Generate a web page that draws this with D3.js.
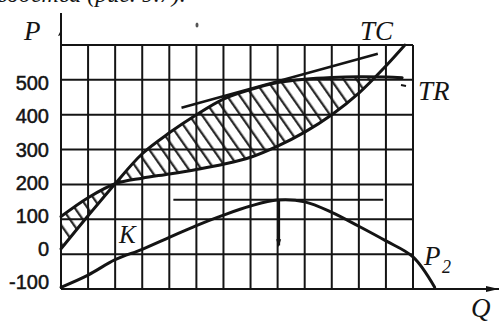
<!DOCTYPE html>
<html>
<head>
<meta charset="utf-8">
<script src="https://cdn.jsdelivr.net/npm/d3@7"></script>
<style>
  body { margin: 0; background: #fff; }
</style>
</head>
<body>
<div id="chart"></div>
<script>
//grid ticks for Q and P
var qTicks = d3.range(0, 14);
var pTicks = [-100, 0, 100, 200, 300, 400, 500, 600];
var pLabels = [-100, 0, 100, 200, 300, 400, 500];

//total revenue TR
var trQ = [0, 1, 2, 3, 4, 5, 6, 7, 8, 9, 10, 11, 12, 12.6];
var trV = [15, 110, 202, 288, 348, 400, 445, 472, 492, 502, 507, 509, 508, 506];

//total cost TC
var tcQ = [0, 1, 2, 3, 4, 5, 6, 7, 8, 9, 10, 11, 12, 12.7];
var tcV = [108, 162, 202, 218, 230, 243, 258, 278, 310, 350, 400, 462, 540, 600];

//profit P2
var p2Q = [0, 1, 2, 3, 4, 5, 6, 7, 8, 9, 10, 11, 12, 13, 13.8];
var p2V = [-95, -60, -16, 14, 48, 82, 112, 138, 155, 150, 120, 80, 38, -8, -95];

//break-even points where TC crosses TR
var breakEven = [2, 11.6];

//tangent to TR (parallel to TC at max profit) and horizontal tangent to P2
var tangentQ = [4.45, 11.7];
var tangentV = [420, 575];
var maxQ = 8;
var maxP = 156;
var flatQ = [4.15, 11.9];

var width = 499, height = 322;

var svg = d3.select("#chart").append("svg")
    .attr("width", width)
    .attr("height", height)
    .style("font-family", "'Liberation Serif', 'Times New Roman', serif");

var x = d3.scaleLinear().domain([0, 13]).range([61, 413]);
var y = d3.scaleLinear().domain([-100, 600]).range([289, 45]);
//tick numbers in the scan sit on a slightly tighter spacing than the grid
var yLab = d3.scaleLinear().domain([-100, 500]).range([282, 83]);

var ink = "#141414";

//hatching pattern
var defs = svg.append("defs");
defs.append("pattern")
    .attr("id", "hatch")
    .attr("patternUnits", "userSpaceOnUse")
    .attr("width", 10.5)
    .attr("height", 10.5)
    .attr("patternTransform", "rotate(-35)")
  .append("line")
    .attr("x1", 5).attr("y1", -2)
    .attr("x2", 5).attr("y2", 13)
    .attr("stroke", "#222")
    .attr("stroke-width", 2.2);

defs.append("clipPath")
    .attr("id", "lensClip")
  .append("rect")
    .attr("x", x(0))
    .attr("y", y(600))
    .attr("width", x(breakEven[1]) - x(0))
    .attr("height", y(-100) - y(600));

//cut-off line of the book text above the figure
svg.append("text")
    .attr("x", -3)
    .attr("y", 2)
    .attr("font-size", 24)
    .attr("font-style", "italic")
    .attr("fill", ink)
    .text("водства (рис. 9.7).");

var line = d3.line()
    .x(function(d) { return x(d[0]); })
    .y(function(d) { return y(d[1]); })
    .curve(d3.curveCatmullRom);

var trPts = d3.zip(trQ, trV);
var tcPts = d3.zip(tcQ, tcV);
var p2Pts = d3.zip(p2Q, p2V);

//hatched area between TR and TC
svg.append("path")
    .attr("d", line(trPts) + "L" + line(tcPts.slice().reverse()).slice(1) + "Z")
    .attr("fill", "url(#hatch)")
    .attr("clip-path", "url(#lensClip)");

//grid
svg.append("g").selectAll("line")
    .data(qTicks)
    .enter().append("line")
    .attr("x1", function(d) { return x(d); })
    .attr("x2", function(d) { return x(d); })
    .attr("y1", y(600))
    .attr("y2", y(-100))
    .attr("stroke", ink)
    .attr("stroke-width", 2);

svg.append("g").selectAll("line")
    .data(pTicks)
    .enter().append("line")
    .attr("x1", x(0))
    .attr("x2", x(13))
    .attr("y1", function(d) { return y(d); })
    .attr("y2", function(d) { return y(d); })
    .attr("stroke", ink)
    .attr("stroke-width", 2);

//axes with arrows
svg.append("line")
    .attr("x1", x(0)).attr("x2", x(0))
    .attr("y1", 13).attr("y2", y(-100))
    .attr("stroke", ink).attr("stroke-width", 2);
svg.append("line")
    .attr("x1", x(0)).attr("x2", 499)
    .attr("y1", y(-100)).attr("y2", y(-100))
    .attr("stroke", ink).attr("stroke-width", 2);
svg.append("path")
    .attr("d", "M499," + y(-100) + "l-13,-3l0,6Z")
    .attr("fill", ink);
svg.append("path")
    .attr("d", "M" + x(0) + ",30l-3,6l3,-1Z")
    .attr("fill", ink);

//tick labels
svg.append("g").selectAll("text")
    .data(pLabels)
    .enter().append("text")
    .attr("x", 49)
    .attr("y", function(d) { return yLab(d); })
    .attr("dy", "0.36em")
    .attr("text-anchor", "end")
    .attr("font-family", "'Liberation Sans', Arial, sans-serif")
    .attr("font-size", 20)
    .attr("fill", ink)
    .attr("stroke", ink)
    .attr("stroke-width", 0.5)
    .text(function(d) { return d; });

//curves
[trPts, tcPts, p2Pts].forEach(function(pts) {
  svg.append("path")
      .attr("d", line(pts))
      .attr("fill", "none")
      .attr("stroke", ink)
      .attr("stroke-width", 3)
      .attr("stroke-linecap", "round");
});

//tangent lines and max-profit marker
svg.append("line")
    .attr("x1", x(tangentQ[0])).attr("y1", y(tangentV[0]))
    .attr("x2", x(tangentQ[1])).attr("y2", y(tangentV[1]))
    .attr("stroke", ink).attr("stroke-width", 2.5);
svg.append("line")
    .attr("x1", x(flatQ[0])).attr("y1", y(maxP))
    .attr("x2", x(flatQ[1])).attr("y2", y(maxP))
    .attr("stroke", ink).attr("stroke-width", 2);
svg.append("line")
    .attr("x1", x(maxQ) + 1).attr("y1", y(maxP))
    .attr("x2", x(maxQ) + 1).attr("y2", y(25))
    .attr("stroke", ink).attr("stroke-width", 3);
svg.append("path")
    .attr("d", "M" + (x(maxQ) + 1) + "," + y(20) + "l-2.5,-8l5,0Z")
    .attr("fill", ink);

//TR end tick and a speck from the scan
svg.append("line")
    .attr("x1", 401).attr("x2", 406)
    .attr("y1", 85).attr("y2", 86)
    .attr("stroke", ink).attr("stroke-width", 2);
svg.append("ellipse")
    .attr("cx", 197).attr("cy", 25)
    .attr("rx", 1.5).attr("ry", 2.5)
    .attr("fill", "#555");

//labels
var labels = [
  {t: "P", x: 24, y: 40, s: 27},
  {t: "TC", x: 360, y: 40, s: 27},
  {t: "TR", x: 418, y: 100, s: 27},
  {t: "K", x: 119, y: 243, s: 25},
  {t: "P", x: 424, y: 265, s: 27},
  {t: "Q", x: 471, y: 317, s: 27}
];
svg.append("g").selectAll("text")
    .data(labels)
    .enter().append("text")
    .attr("x", function(d) { return d.x; })
    .attr("y", function(d) { return d.y; })
    .attr("font-size", function(d) { return d.s; })
    .attr("font-style", "italic")
    .attr("fill", ink)
    .text(function(d) { return d.t; });
svg.append("text")
    .attr("x", 442).attr("y", 273)
    .attr("font-size", 18)
    .attr("font-style", "italic")
    .attr("fill", ink)
    .text("2");
</script>
</body>
</html>
